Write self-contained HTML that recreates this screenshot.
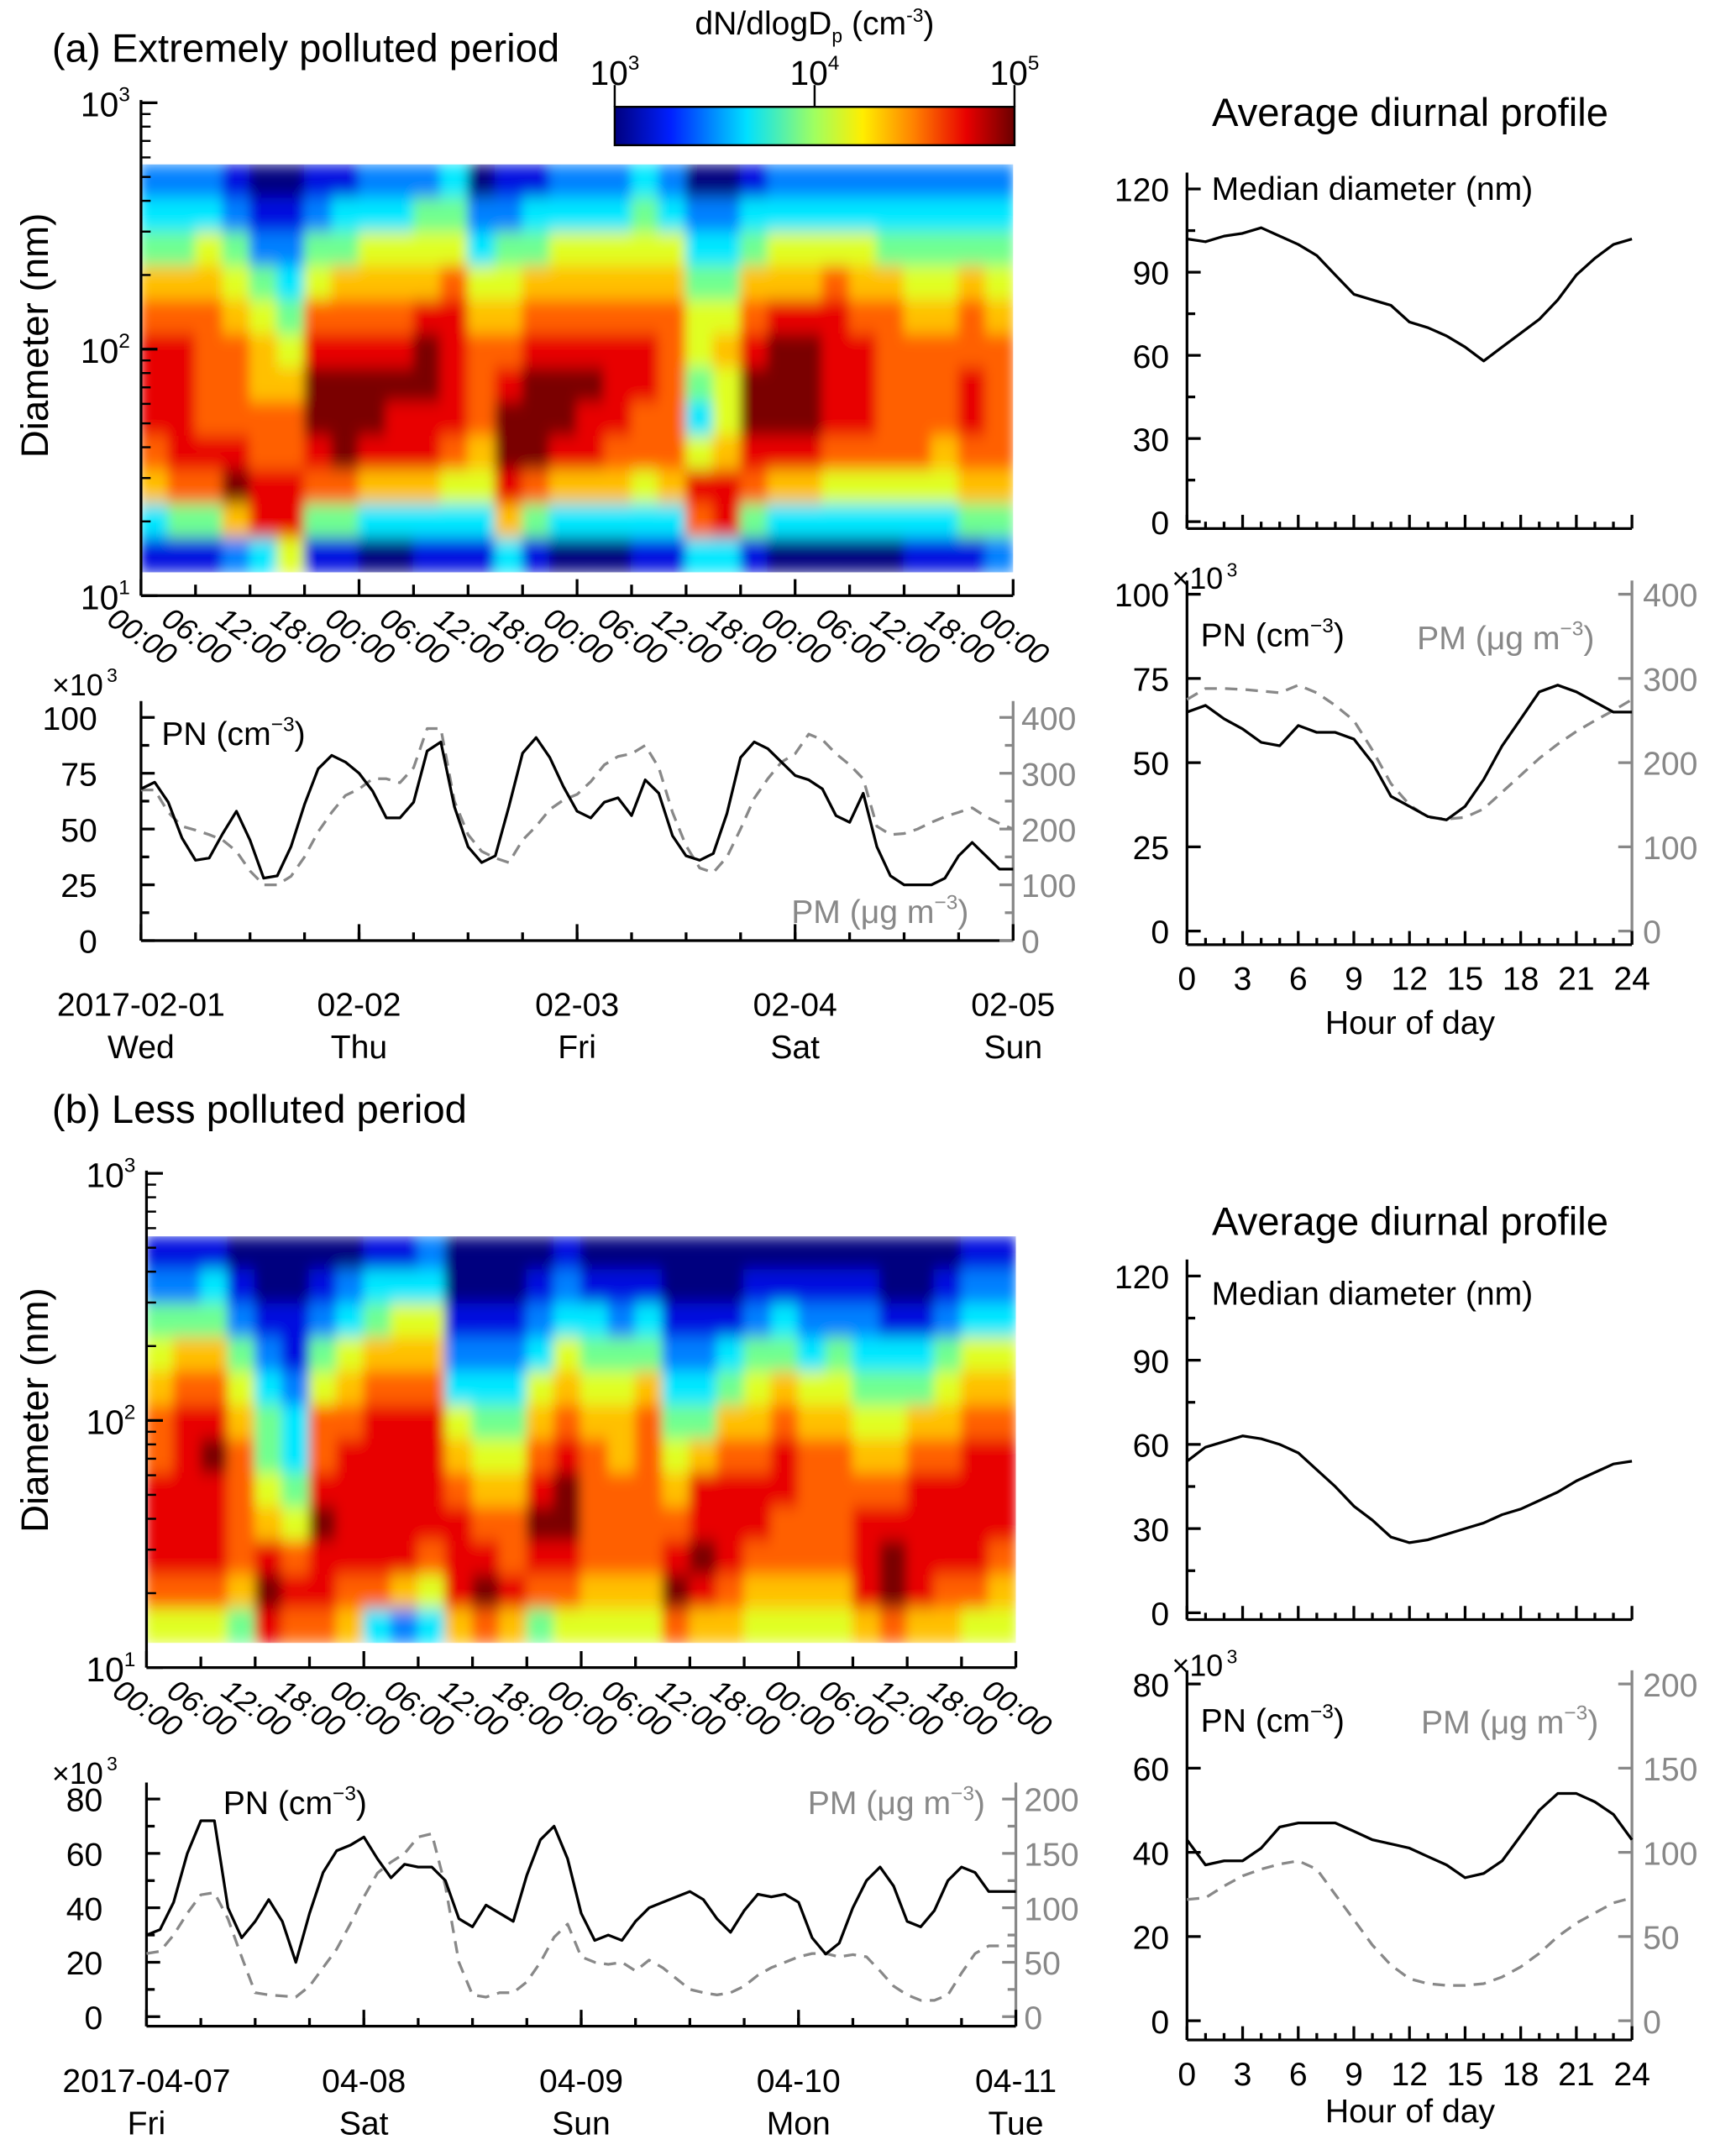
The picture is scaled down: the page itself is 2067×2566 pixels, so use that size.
<!DOCTYPE html>
<html><head><meta charset="utf-8"><style>
html,body{margin:0;padding:0;background:#fff;}
svg{display:block;font-family:"Liberation Sans",Arial,sans-serif;}
</style></head><body>
<svg id="chart" width="2067" height="2566" viewBox="0 0 1268 1574" xmlns="http://www.w3.org/2000/svg">
<defs>
<linearGradient id="jet" x1="0" x2="1" y1="0" y2="0">
<stop offset="0" stop-color="#00007f"/><stop offset="0.14" stop-color="#0020ff"/><stop offset="0.33" stop-color="#00e0ff"/><stop offset="0.5" stop-color="#a0ff60"/><stop offset="0.62" stop-color="#ffee00"/><stop offset="0.75" stop-color="#ff8000"/><stop offset="0.88" stop-color="#e80000"/><stop offset="1" stop-color="#6a0000"/>
</linearGradient>
<filter id="blur" x="0" y="0" width="1" height="1"><feGaussianBlur stdDeviation="4 6" edgeMode="duplicate"/></filter>
<clipPath id="clipA"><rect x="103" y="120" width="637" height="298"/></clipPath>
<clipPath id="clipB"><rect x="107" y="903" width="635" height="297"/></clipPath>
</defs>
<g fill="#000">
<text x="38" y="45" font-size="29">(a) Extremely polluted period</text>
<text x="38" y="820" font-size="29">(b) Less polluted period</text>
<text x="595" y="25" font-size="24" text-anchor="middle">dN/dlogD<tspan font-size="14" dy="6">p</tspan><tspan dy="-6"> (cm</tspan><tspan font-size="14" dy="-9">-3</tspan><tspan dy="9">)</tspan></text>
<text x="1030" y="92" text-anchor="middle" font-size="29">Average diurnal profile</text>
<text x="1030" y="902" text-anchor="middle" font-size="29">Average diurnal profile</text>
<text transform="translate(35,245) rotate(-90)" text-anchor="middle" font-size="28">Diameter (nm)</text>
<text transform="translate(35,1030) rotate(-90)" text-anchor="middle" font-size="28">Diameter (nm)</text>
</g>
<rect x="449" y="78" width="292" height="28" fill="url(#jet)" stroke="#000" stroke-width="1.5"/>
<g id="layer"></g>
</svg>
<script>
// ---------- data ----------
const heatA = ["234678887631","234678888741","235677778741","124567778962","012456677883","012345677885","124578998741","134678999741",
"235678998630","235678988630","245689988631","345788887531","023567776531","124567899863","134678999741","235678998630",
"235678988630","235678887630","345678877531","235677777631","023455435873","023456556883","134678998741","235689998630",
"235689998630","235788887530","235678887530","234677777530","234567777531","234567776531","234677887641","234567777642"];
const heatB = ["124567788875","124678888875","134678988875","012456777764","001234456898","001123345787","012457789887","023567888876",
"134678888873","135678888862","235678888753","001235678886","001234567897","001234567786","012356789874","123567899875",
"013456777765","012456677765","013467777765","001234567897","001234688986","001346788876","012456788765","013467887765",
"012356777765","012456777765","012345678886","001345678997","001346788886","012456788876","123567888875","123567888765"];
const levelColors = ["#00007f","#0010e0","#0080ff","#00e8ff","#70ff90","#e0ff20","#ffc000","#ff6000","#e80000","#7a0000"];

const pnA = [68,71,62,46,36,37,48,58,45,28,29,42,61,77,83,80,75,67,55,55,62,85,89,60,42,35,38,60,84,91,82,69,58,55,62,64,56,72,66,47,38,36,39,57,82,89,86,80,74,72,68,56,53,66,42,29,25,25,25,28,38,44,38,32,32];
const pmA = [270,270,230,205,198,190,180,160,125,100,100,115,150,195,230,260,272,290,290,283,310,380,380,250,190,160,148,140,180,205,235,252,262,285,315,330,335,350,310,230,170,130,122,150,200,255,290,320,335,370,360,335,315,290,205,190,192,200,212,222,230,238,222,210,200];
const pnB = [30,32,42,60,72,72,40,29,35,43,35,20,38,53,61,63,66,58,51,56,55,55,50,36,33,41,38,35,52,65,70,58,38,28,30,28,35,40,42,44,46,43,36,31,39,45,44,45,42,29,23,27,40,50,55,48,35,33,39,50,55,53,46,46,46];
const pmB = [58,60,75,95,112,114,90,55,22,20,19,18,28,45,62,85,110,132,142,150,165,168,120,50,20,18,22,22,32,50,73,85,55,50,48,50,42,52,45,35,25,22,20,22,28,38,45,50,55,58,58,55,57,55,42,28,20,15,15,20,40,58,65,65,65];

const medA = [102,101,103,104,106,103,100,96,89,82,80,78,72,70,67,63,58,63,68,73,80,89,95,100,102];
const dpnA = [65,67,63,60,56,55,61,59,59,57,50,40,37,34,33,37,45,55,63,71,73,71,68,65,65];
const dpmA = [275,288,288,287,285,283,292,283,268,250,215,175,150,135,133,135,145,165,185,205,222,237,250,262,275];
const medB = [54,59,61,63,62,60,57,51,45,38,33,27,25,26,28,30,32,35,37,40,43,47,50,53,54];
const dpnB = [43,37,38,38,41,46,47,47,47,45,43,42,41,39,37,34,35,38,44,50,54,54,52,49,43];
const dpmB = [72,73,80,86,90,93,95,90,75,60,45,33,25,22,21,21,22,26,32,40,50,58,64,70,73];

const timeTicks = ["00:00","06:00","12:00","18:00","00:00","06:00","12:00","18:00","00:00","06:00","12:00","18:00","00:00","06:00","12:00","18:00","00:00"];
const datesA = ["2017-02-01","02-02","02-03","02-04","02-05"];
const daysA = ["Wed","Thu","Fri","Sat","Sun"];
const datesB = ["2017-04-07","04-08","04-09","04-10","04-11"];
const daysB = ["Fri","Sat","Sun","Mon","Tue"];
const hourTicks = [0,3,6,9,12,15,18,21,24];
const diamTicks = [0,30,60,90,120];
const pnTicksA = [0,25,50,75,100];
const pmTicksA = [0,100,200,300,400];
const pnTicksB = [0,20,40,60,80];
const pmTicksB = [0,50,100,150,200];

// ---------- helpers ----------
const NS="http://www.w3.org/2000/svg";
const layer=document.getElementById('layer');
const FS=24;
function mk(tag,attrs,parent){const e=document.createElementNS(NS,tag);for(const k in attrs)e.setAttribute(k,attrs[k]);(parent||layer).appendChild(e);return e;}
function lin(d0,d1,r0,r1){return v=>r0+(v-d0)/(d1-d0)*(r1-r0);}
function line(x1,y1,x2,y2,c,w,name){const e=mk('line',{x1,y1,x2,y2,stroke:c||'#000','stroke-width':w||2});

return e;}
function txt(x,y,s,o,name){const e=mk('text',Object.assign({x,y,'font-size':FS},o||{}));e.textContent=s;

return e;}

// ---------- heatmaps ----------
function heat(grid,x0,x1,yT,yB,clip,name){
  const g=mk('g',{'clip-path':'url(#'+clip+')'});
  
  
  const g2=mk('g',{filter:'url(#blur)'},g);
  const nc=grid.length,nr=grid[0].length,cw=(x1-x0)/nc,rh=(yB-yT)/nr;
  grid.forEach((col,i)=>{for(let j=0;j<nr;j++){
    const r=mk('rect',{x:x0+i*cw-0.5,y:yT+j*rh-0.5,width:cw+1,height:rh+1,fill:levelColors[+col[j]]},g2);
    
    
  }});
}
heat(heatA,103,740,120,418,'clipA','heatmap-a');
heat(heatB,107,742,903,1200,'clipB','heatmap-b');

function logAxis(x,y3,y1,x1,name){
  line(x,y3-2,x,y1,'#000',2,name+'-axis');
  line(x,y1,x1,y1,'#000',2,name+'-x-axis');
  const H=(y1-y3)/2;const labs=["3","2","1"];
  [0,1,2].forEach(i=>{const y=y3+i*H;line(x,y,x+12,y,'#000',2);
    const t=txt(x-8,y+10,'10',{'text-anchor':'end','font-size':25},'y-tick-label');
    const s=mk('tspan',{'font-size':15,dy:-11},t);s.textContent=labs[i];});
  for(let d=0;d<2;d++){const yl=y1-d*H;for(let k=2;k<10;k++){const y=yl-Math.log10(k)*H;line(x,y,x+7,y,'#000',1.5);}}
  const step=(x1-x)/16;
  timeTicks.forEach((s,i)=>{const tx=x+i*step;line(tx,y1,tx,y1-(i%4==0?12:8),'#000',2);
    txt(0,0,s,{'font-size':22,'font-style':'italic',transform:`translate(${tx-26},${y1+20}) rotate(35)`},'x-tick-label');});
}
logAxis(103,75,435,740,'heatmap-a');
logAxis(107,857,1218,742,'heatmap-b');
[[449,"3"],[595,"4"],[741,"5"]].forEach(a=>{line(a[0],62,a[0],78,'#000',1.5);const t=txt(a[0],62,'10',{'text-anchor':'middle','font-size':25},'colorbar-label');const s=mk('tspan',{'font-size':15,dy:-11},t);s.textContent=a[1];});

function path(vals,xs,ys,color,dash,name){
  let d='';vals.forEach((v,i)=>{d+=(i?'L':'M')+xs(i).toFixed(1)+','+ys(v).toFixed(1);});
  const p=mk('path',{d,fill:'none',stroke:color,'stroke-width':2,'stroke-dasharray':dash||'none','stroke-linejoin':'round'});
  
  
}

// ---------- time series panels ----------
function tsPanel(pn,pm,x0,x1,yTop,yZero,pnT,pmT,dates,days,yAx,labY,name){
  const pnS=lin(0,pnT[pnT.length-1],yZero,yTop),pmS=lin(0,pmT[pmT.length-1],yZero,yTop);
  line(x0,yTop-12,x0,yAx,'#000',2,name+'-y-axis');
  line(x1,yTop-12,x1,yAx,'#888',2,name+'-pm-axis');
  line(x0,yAx,x1,yAx,'#000',2,name+'-x-axis');
  pnT.forEach(v=>{line(x0,pnS(v),x0+10,pnS(v));txt(x0-32,pnS(v)+9,String(v),{'text-anchor':'end'},'pn-tick-label');});
  pmT.forEach(v=>{line(x1,pmS(v),x1-10,pmS(v),'#888');txt(x1+6,pmS(v)+9,String(v),{fill:'#888'},'pm-tick-label');});
  for(let i=0;i<pnT.length-1;i++){const y=(pnS(pnT[i])+pnS(pnT[i+1]))/2;line(x0,y,x0+6,y);const y2=(pmS(pmT[i])+pmS(pmT[i+1]))/2;line(x1,y2,x1-6,y2,'#888');}
  const dx=(x1-x0)/4;
  dates.forEach((s,i)=>{const x=x0+i*dx;line(x,yAx,x,yAx-12);
    txt(x,labY,s,{'text-anchor':'middle'},'date-label');txt(x,labY+31,days[i],{'text-anchor':'middle'},'weekday-label');});
  for(let i=0;i<16;i++){const x=x0+i*dx/4;line(x,yAx,x,yAx-6);}
  const n=pm.length;path(pm,i=>x0+i*(x1-x0)/(n-1),pmS,'#888','9 6',name+'-pm-line');
  const m=pn.length;path(pn,i=>x0+i*(x1-x0)/(m-1),pnS,'#000',null,name+'-pn-line');
}
tsPanel(pnA,pmA,103,740,524,687,pnTicksA,pmTicksA,datesA,daysA,687,742,'ts-a');
tsPanel(pnB,pmB,107,742,1314,1473,pnTicksB,pmTicksB,datesB,daysB,1480,1528,'ts-b');
txt(38,508,'×10',{'font-size':22},'pn-multiplier');
txt(38,1303,'×10',{'font-size':22},'pn-multiplier');
function lab(x,y,main,sup,end,color,name){const t=txt(x,y,main,{'font-size':24,fill:color},name);const s=mk('tspan',{'font-size':15,dy:-10},t);s.textContent=sup;const e=mk('tspan',{dy:10},t);e.textContent=end;}
lab(118,544,'PN (cm','−3',')','#000','pn-label-a');
lab(578,674,'PM (μg m','−3',')','#888','pm-label-a');
lab(163,1325,'PN (cm','−3',')','#000','pn-label-b');
lab(590,1325,'PM (μg m','−3',')','#888','pm-label-b');
[[78,498],[78,1293],[896,421],[896,1215]].forEach(p=>txt(p[0],p[1],'3',{'font-size':14},'multiplier-exp'));

// ---------- diurnal panels ----------
const hx=lin(0,24,867,1192);
function hourAxis(y,labels,name){line(867,y,1192,y,'#000',2,name+'-x-axis');
  for(let h=0;h<=24;h++){line(hx(h),y,hx(h),y-(h%3==0?10:5));}
  if(labels){hourTicks.forEach(h=>txt(hx(h),y+33,String(h),{'text-anchor':'middle'},'hour-tick-label'));}}
function medPanel(vals,yTop,yZero,yAx,name){
  const s=lin(0,120,yZero,yTop);
  line(867,yTop-12,867,yAx,'#000',2,name+'-y-axis');
  diamTicks.forEach(v=>{line(867,s(v),877,s(v));txt(854,s(v)+9,String(v),{'text-anchor':'end'},'diameter-tick-label');});
  for(let i=0;i<4;i++){const y=s(diamTicks[i]+15);line(867,y,873,y);}
  hourAxis(yAx,false,name);
  path(vals,hx,s,'#000',null,name+'-median-line');
}
medPanel(medA,138,381,386,'diurnal-med-a');
medPanel(medB,932,1178,1183,'diurnal-med-b');
txt(885,146,'Median diameter (nm)',{'font-size':24},'median-label');
txt(885,953,'Median diameter (nm)',{'font-size':24},'median-label');
function dPanel(pn,pm,pnT,pmT,yTop,yZero,yAx,name){
  const a=lin(0,pnT[pnT.length-1],yZero,yTop),b=lin(0,pmT[pmT.length-1],yZero,yTop);
  line(867,yTop-10,867,yAx,'#000',2,name+'-y-axis');line(1192,yTop-10,1192,yAx,'#888',2,name+'-pm-axis');
  pnT.forEach(v=>{line(867,a(v),877,a(v));txt(854,a(v)+9,String(v),{'text-anchor':'end'},'pn-tick-label');});
  pmT.forEach(v=>{line(1192,b(v),1182,b(v),'#888');txt(1200,b(v)+9,String(v),{fill:'#888'},'pm-tick-label');});
  hourAxis(yAx,true,name);
  path(pm,hx,b,'#888','9 6',name+'-pm-line');
  path(pn,hx,a,'#000',null,name+'-pn-line');
}
dPanel(dpnA,dpmA,pnTicksA,pmTicksA,434,680,690,'diurnal-a');
dPanel(dpnB,dpmB,pnTicksB,pmTicksB,1230,1476,1490,'diurnal-b');
txt(856,430,'×10',{'font-size':22},'pn-multiplier');
txt(856,1224,'×10',{'font-size':22},'pn-multiplier');
lab(877,472,'PN (cm','−3',')','#000','pn-label');
lab(1035,474,'PM (μg m','−3',')','#888','pm-label');
lab(877,1265,'PN (cm','−3',')','#000','pn-label');
lab(1038,1266,'PM (μg m','−3',')','#888','pm-label');
txt(1030,755,'Hour of day',{'text-anchor':'middle'},'x-axis-title');
txt(1030,1550,'Hour of day',{'text-anchor':'middle'},'x-axis-title');
</script>
</body></html>
